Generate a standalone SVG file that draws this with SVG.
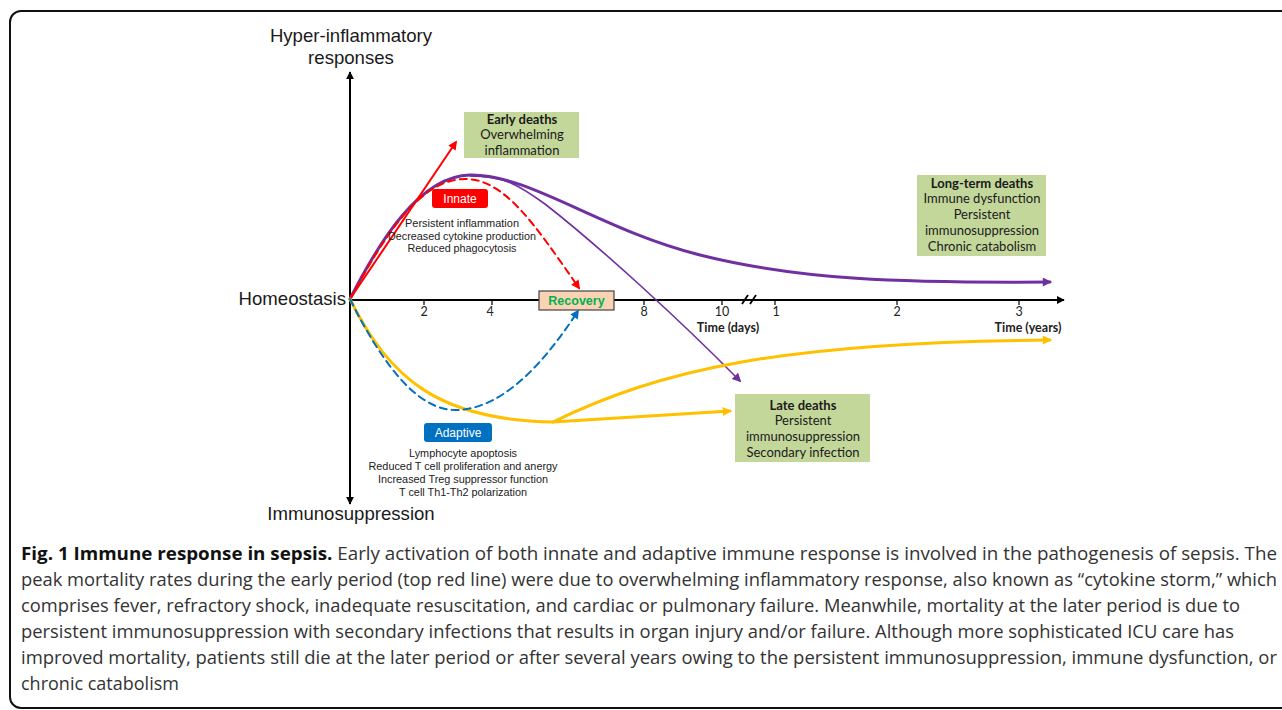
<svg xmlns="http://www.w3.org/2000/svg" width="1282" height="710" viewBox="0 0 1282 710">
<defs>
<style>
.ax{font-family:"Liberation Sans",Arial,sans-serif;font-size:18.6px;fill:#1a1a1a}
.sm{font-family:"Liberation Sans",Arial,sans-serif;font-size:11px;fill:#222;text-anchor:middle}
.bx{font-family:Lato,"Open Sans",sans-serif;font-size:13px;fill:#1a1a1a;text-anchor:middle}
.b{font-weight:bold}
.tk{font-family:Lato,"Open Sans",sans-serif;font-size:12.5px;fill:#222;text-anchor:middle}
.tl{font-family:Lato,"Open Sans",sans-serif;font-size:12.5px;font-weight:bold;fill:#222;text-anchor:middle}
.cap{font-family:"Open Sans","Noto Sans",sans-serif;font-size:18px;fill:#333}
.green{fill:#C4D79B}
.line{fill:none;stroke-linecap:round}
</style>
<marker id="aK" viewBox="0 0 10 10" refX="9" refY="5" markerWidth="8" markerHeight="8" markerUnits="userSpaceOnUse" orient="auto"><path d="M0,0 L10,5 L0,10 z" fill="#000"/></marker>
<marker id="aP" viewBox="0 0 10 10" refX="8" refY="5" markerWidth="11" markerHeight="9" markerUnits="userSpaceOnUse" orient="auto"><path d="M0,0 L10,5 L0,10 z" fill="#7030A0"/></marker>
<marker id="aR" viewBox="0 0 10 10" refX="8" refY="5" markerWidth="10" markerHeight="9" markerUnits="userSpaceOnUse" orient="auto"><path d="M0,0 L10,5 L0,10 z" fill="#FF0000"/></marker>
<marker id="aY" viewBox="0 0 10 10" refX="8" refY="5" markerWidth="11" markerHeight="9" markerUnits="userSpaceOnUse" orient="auto"><path d="M0,0 L10,5 L0,10 z" fill="#FFC000"/></marker>
<marker id="aB" viewBox="0 0 10 10" refX="8" refY="5" markerWidth="10" markerHeight="9" markerUnits="userSpaceOnUse" orient="auto"><path d="M0,0 L10,5 L0,10 z" fill="#0070C0"/></marker>
</defs>
<rect width="1282" height="710" fill="#fff"/>
<rect x="10" y="11" width="1300" height="697" rx="11" fill="none" stroke="#111" stroke-width="2"/>

<g id="axes">
<line x1="350" y1="300" x2="350" y2="72" stroke="#000" stroke-width="2" marker-end="url(#aK)"/>
<line x1="350" y1="300" x2="350" y2="504" stroke="#000" stroke-width="2" marker-end="url(#aK)"/>
<line x1="350" y1="300" x2="1064" y2="300" stroke="#000" stroke-width="2" marker-end="url(#aK)"/>
<g stroke="#000" stroke-width="1.2">
<line x1="424" y1="300" x2="424" y2="305"/><line x1="492" y1="300" x2="492" y2="305"/>
<line x1="644" y1="300" x2="644" y2="305"/><line x1="722" y1="300" x2="722" y2="305"/>
<line x1="775" y1="300" x2="775" y2="305"/><line x1="897" y1="300" x2="897" y2="305"/>
<line x1="1019" y1="300" x2="1019" y2="305"/>
</g>
<g stroke="#000" stroke-width="1.8">
<line x1="742" y1="304" x2="748" y2="295"/><line x1="750" y1="304" x2="756" y2="295"/>
</g>
<text class="tk" x="424" y="316">2</text><text class="tk" x="490" y="316">4</text>
<text class="tk" x="644" y="316">8</text><text class="tk" x="722" y="316">10</text>
<text class="tk" x="776" y="316">1</text><text class="tk" x="897" y="316">2</text>
<text class="tk" x="1019" y="316">3</text>
<text class="tl" x="728" y="332">Time (days)</text>
<text class="tl" x="1028" y="332">Time (years)</text>
<text class="ax" x="351" y="42" text-anchor="middle">Hyper-inflammatory</text>
<text class="ax" x="351" y="64" text-anchor="middle">responses</text>
<text class="ax" x="346" y="305" text-anchor="end">Homeostasis</text>
<text class="ax" x="351" y="520" text-anchor="middle">Immunosuppression</text>
</g>

<g id="connectors">
<path class="line" d="M350,299 C380,240 420,176 470,175 C530,174 600,230 700,255 C800,280 900,283 1050,282" stroke="#7030A0" stroke-width="3" marker-end="url(#aP)"/>
<path class="line" d="M470,176 C505,176 520,186 545,204 C600,247 680,320 740,381" stroke="#7030A0" stroke-width="1.6" marker-end="url(#aP)"/>
<line x1="350" y1="299" x2="456" y2="142" stroke="#FF0000" stroke-width="2" marker-end="url(#aR)"/>
<path class="line" d="M350,299 C385,235 420,179 465,179 C505,179 535,225 579,288" stroke="#FF0000" stroke-width="2" stroke-dasharray="7,5" marker-end="url(#aR)"/>
<path class="line" d="M350,299 C390,380 440,420 553,422 L730,411" stroke="#FFC000" stroke-width="3" marker-end="url(#aY)"/>
<path class="line" d="M553,422 C660,370 780,342 1050,340" stroke="#FFC000" stroke-width="3" marker-end="url(#aY)"/>
<path class="line" d="M350,299 C385,370 420,410 455,410 C505,410 548,357 578,311" stroke="#0070C0" stroke-width="2" stroke-dasharray="7,5" marker-end="url(#aB)"/>
</g>

<g id="early-deaths">
<rect class="green" x="464" y="112" width="115" height="46"/>
<text class="bx b" x="522" y="124">Early deaths</text>
<text class="bx" x="522" y="139">Overwhelming</text>
<text class="bx" x="522" y="155">inflammation</text>
</g>

<g id="long-term-deaths">
<rect class="green" x="917" y="175" width="129" height="81"/>
<text class="bx b" x="982" y="188">Long-term deaths</text>
<text class="bx" x="982" y="203">Immune dysfunction</text>
<text class="bx" x="982" y="219">Persistent</text>
<text class="bx" x="982" y="235">immunosuppression</text>
<text class="bx" x="982" y="251">Chronic catabolism</text>
</g>

<g id="late-deaths">
<rect class="green" x="735" y="394" width="135" height="68"/>
<text class="bx b" x="803" y="410">Late deaths</text>
<text class="bx" x="803" y="425">Persistent</text>
<text class="bx" x="803" y="441">immunosuppression</text>
<text class="bx" x="803" y="457">Secondary infection</text>
</g>

<g id="recovery">
<rect x="539" y="291" width="75" height="19" fill="#FAD3B4" stroke="#444" stroke-width="1.2"/>
<text x="576.5" y="305" text-anchor="middle" font-family="'Liberation Sans',Arial,sans-serif" font-size="12.5" font-weight="bold" fill="#00B050">Recovery</text>
</g>

<g id="innate">
<rect x="432" y="189" width="56" height="19" rx="3" fill="#FF0000"/>
<text x="460" y="203" text-anchor="middle" font-family="'Liberation Sans',Arial,sans-serif" font-size="12" fill="#fff">Innate</text>
<text class="sm" x="462" y="227" textLength="114" lengthAdjust="spacingAndGlyphs">Persistent inflammation</text>
<text class="sm" x="462" y="240" textLength="148" lengthAdjust="spacingAndGlyphs">Decreased cytokine production</text>
<text class="sm" x="462" y="252" textLength="109" lengthAdjust="spacingAndGlyphs">Reduced phagocytosis</text>
</g>

<g id="adaptive">
<rect x="424" y="423" width="68" height="19" rx="3" fill="#0070C0"/>
<text x="458" y="437" text-anchor="middle" font-family="'Liberation Sans',Arial,sans-serif" font-size="12" fill="#fff">Adaptive</text>
<text class="sm" x="463" y="457" textLength="108" lengthAdjust="spacingAndGlyphs">Lymphocyte apoptosis</text>
<text class="sm" x="463" y="470" textLength="189" lengthAdjust="spacingAndGlyphs">Reduced T cell proliferation and anergy</text>
<text class="sm" x="463" y="483" textLength="170" lengthAdjust="spacingAndGlyphs">Increased Treg suppressor function</text>
<text class="sm" x="463" y="496" textLength="128" lengthAdjust="spacingAndGlyphs">T cell Th1-Th2 polarization</text>
</g>

<g id="caption">
<text class="cap" x="21" y="560" textLength="1256" lengthAdjust="spacingAndGlyphs"><tspan font-weight="bold" fill="#111">Fig. 1 Immune response in sepsis.</tspan> Early activation of both innate and adaptive immune response is involved in the pathogenesis of sepsis. The</text>
<text class="cap" x="21" y="586" textLength="1256" lengthAdjust="spacingAndGlyphs">peak mortality rates during the early period (top red line) were due to overwhelming inflammatory response, also known as “cytokine storm,” which</text>
<text class="cap" x="21" y="612" textLength="1219" lengthAdjust="spacingAndGlyphs">comprises fever, refractory shock, inadequate resuscitation, and cardiac or pulmonary failure. Meanwhile, mortality at the later period is due to</text>
<text class="cap" x="21" y="638" textLength="1213" lengthAdjust="spacingAndGlyphs">persistent immunosuppression with secondary infections that results in organ injury and/or failure. Although more sophisticated ICU care has</text>
<text class="cap" x="21" y="664" textLength="1256" lengthAdjust="spacingAndGlyphs">improved mortality, patients still die at the later period or after several years owing to the persistent immunosuppression, immune dysfunction, or</text>
<text class="cap" x="21" y="690">chronic catabolism</text>
</g>
</svg>
